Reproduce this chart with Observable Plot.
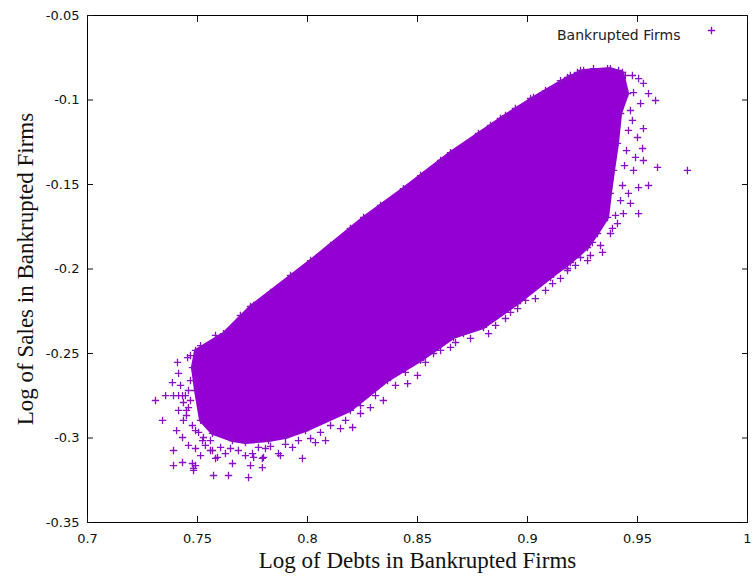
<!DOCTYPE html>
<html>
<head>
<meta charset="utf-8">
<script src="https://cdn.jsdelivr.net/npm/d3@7"></script>
<script src="https://cdn.jsdelivr.net/npm/@observablehq/plot@0.6"></script>
<style>
  html, body { margin: 0; padding: 0; background: #fff; }
  #chart { width: 755px; height: 581px; }
</style>
</head>
<body>
<div id="chart"></div>
<script>
// ---- Data ----
const seriesName = "Bankrupted Firms";
const xTitle = "Log of Debts in Bankrupted Firms";
const yTitle = "Log of Sales in Bankrupted Firms";
const xTicks = [0.7, 0.75, 0.8, 0.85, 0.9, 0.95, 1];
const yTicks = [-0.35, -0.3, -0.25, -0.2, -0.15, -0.1, -0.05];

// Outline of the saturated (overplotted) core of the cloud: [debts, sales]
const coreOutline = [
  [0.7477, -0.2583], [0.7491, -0.2482], [0.7618, -0.2382], [0.7741, -0.2222],
  [0.8014, -0.1950], [0.8255, -0.1695], [0.8436, -0.1524], [0.8650, -0.1311],
  [0.8877, -0.1109], [0.9027, -0.0985], [0.9182, -0.0867], [0.9255, -0.0825],
  [0.9377, -0.0814], [0.9432, -0.0837], [0.9455, -0.0962], [0.9423, -0.1080],
  [0.9409, -0.1257], [0.9391, -0.1417], [0.9377, -0.1553], [0.9364, -0.1695],
  [0.9318, -0.1790], [0.9273, -0.1873], [0.9195, -0.1962], [0.9105, -0.2050],
  [0.8955, -0.2204], [0.8800, -0.2346], [0.8664, -0.2405], [0.8514, -0.2541],
  [0.8364, -0.2660], [0.8195, -0.2837], [0.7991, -0.2956], [0.7900, -0.2997],
  [0.7823, -0.3015], [0.7718, -0.3027], [0.7659, -0.3015], [0.7568, -0.2973],
  [0.7514, -0.2896], [0.7491, -0.2719]
];

// Firms packed along the ragged border of the core: [debts, sales]
const borderFirms = [
  [0.7468, -0.2660], [0.7459, -0.2719], [0.7468, -0.2778], [0.7450, -0.2867],
  [0.7477, -0.2926], [0.7505, -0.2967], [0.7536, -0.3044], [0.7559, -0.3015],
  [0.7605, -0.3056], [0.7650, -0.3062], [0.7777, -0.3056], [0.7832, -0.3050],
  [0.7900, -0.3038], [0.7959, -0.3015], [0.8014, -0.3003], [0.8059, -0.2967],
  [0.8105, -0.2926], [0.8173, -0.2896], [0.8241, -0.2808], [0.8309, -0.2749],
  [0.8400, -0.2689], [0.8445, -0.2612], [0.8536, -0.2553], [0.8605, -0.2482],
  [0.8673, -0.2435], [0.8741, -0.2411], [0.8855, -0.2334], [0.8923, -0.2257],
  [0.8991, -0.2186], [0.9082, -0.2127], [0.9150, -0.2056], [0.9218, -0.1979],
  [0.9286, -0.1920], [0.9332, -0.1861], [0.9386, -0.1760], [0.9400, -0.1683],
  [0.9423, -0.1595], [0.9432, -0.1506], [0.9441, -0.1388], [0.9450, -0.1299],
  [0.9459, -0.1180], [0.9468, -0.1062], [0.9482, -0.0956], [0.9445, -0.0855],
  [0.7514, -0.2453], [0.7582, -0.2393], [0.7695, -0.2275], [0.7832, -0.2139],
  [0.7923, -0.2038], [0.8105, -0.1861], [0.8195, -0.1760], [0.8332, -0.1624],
  [0.8514, -0.1447], [0.8605, -0.1358], [0.8741, -0.1240], [0.8832, -0.1151],
  [0.8945, -0.1050], [0.9082, -0.0944], [0.9150, -0.0885], [0.9195, -0.0855],
  [0.7423, -0.2689], [0.7436, -0.2790], [0.7414, -0.2837], [0.7405, -0.2956],
  [0.7459, -0.3044], [0.7514, -0.3104]
];

// Individually visible firms around the edge of the cloud: [debts, sales]
const edgeFirms = [
  // lower-left fringe
  [0.7409, -0.2553], [0.7455, -0.2524], [0.7414, -0.2618], [0.7386, -0.2672],
  [0.7309, -0.2778], [0.7355, -0.2749], [0.7391, -0.2749], [0.7414, -0.2749],
  [0.7445, -0.2749], [0.7432, -0.2749], [0.7341, -0.2896], [0.7436, -0.2896],
  [0.7432, -0.2997], [0.7491, -0.2956], [0.7391, -0.3074], [0.7491, -0.3062],
  [0.7391, -0.3163], [0.7432, -0.3145], [0.7491, -0.3163], [0.7482, -0.3180],
  [0.7568, -0.3074], [0.7582, -0.3121], [0.7573, -0.3222], [0.7641, -0.3222],
  [0.7659, -0.3151], [0.7732, -0.3234], [0.7741, -0.3163], [0.7795, -0.3175],
  [0.7795, -0.3121], [0.7718, -0.3104], [0.7627, -0.3092], [0.7977, -0.3121],
  [0.7868, -0.3092], [0.7932, -0.3056], [0.7523, -0.3015], [0.7459, -0.2820],
  [0.7527, -0.2997], [0.7686, -0.3074], [0.7750, -0.3092], [0.7809, -0.3062],
  [0.7477, -0.3151], [0.7482, -0.3192], [0.7591, -0.3115], [0.7755, -0.3115],
  [0.7800, -0.3115], [0.7450, -0.2837], [0.7559, -0.3074], [0.7877, -0.3104],
  [0.8036, -0.3027], [0.8082, -0.3015], [0.8150, -0.2944], [0.8205, -0.2938],
  [0.8241, -0.2855], [0.8286, -0.2820], [0.7468, -0.2512], [0.7755, -0.2216],
  // lower-right fringe
  [0.8345, -0.2778], [0.8455, -0.2678], [0.8500, -0.2630], [0.8573, -0.2500],
  [0.8650, -0.2464], [0.8709, -0.2382], [0.8823, -0.2382], [0.8900, -0.2293],
  [0.8955, -0.2234], [0.9036, -0.2175], [0.9114, -0.2086], [0.9182, -0.2009],
  [0.9182, -0.1997], [0.9241, -0.1932], [0.9273, -0.1950], [0.9295, -0.1843],
  [0.9341, -0.1902], [0.9377, -0.1790], [0.9409, -0.1731], [0.9436, -0.1672],
  // right fringe
  [0.9505, -0.1672], [0.9468, -0.1612], [0.9459, -0.1553], [0.9505, -0.1518],
  [0.9550, -0.1506], [0.9482, -0.1417], [0.9591, -0.1399], [0.9727, -0.1417],
  [0.9527, -0.1358], [0.9491, -0.1340], [0.9523, -0.1287], [0.9500, -0.1222],
  [0.9527, -0.1169], [0.9477, -0.1121], [0.9514, -0.1021], [0.9582, -0.1003],
  [0.9550, -0.0962], [0.9527, -0.0902], [0.9505, -0.0873], [0.9477, -0.0855],
  // top fringe
  [0.9241, -0.0825], [0.9300, -0.0814], [0.9364, -0.0814], [0.9414, -0.0825],
  [0.9227, -0.0837], [0.9014, -0.0991], [0.8900, -0.1092], [0.8777, -0.1198]
];

// ---- Chart ----
const violet = "#9400d3";
const markColor = "#8a10c6";
const sans = "'DejaVu Sans', sans-serif";
const serif = "'Liberation Serif', 'Times New Roman', serif";
const xy = { x: d => d[0], y: d => d[1] };

const chart = Plot.plot({
  width: 755,
  height: 581,
  marginLeft: 87,
  marginRight: 8,
  marginTop: 15,
  marginBottom: 59,
  style: { fontFamily: sans, fontSize: "13px", color: "#111", background: "#fff" },
  x: { domain: [0.7, 1], ticks: xTicks },
  y: { domain: [-0.35, -0.05], ticks: yTicks },
  marks: [
    // dense core
    Plot.line(coreOutline, {
      ...xy, curve: "linear-closed",
      fill: violet, stroke: violet, strokeWidth: 3, strokeLinejoin: "round"
    }),
    Plot.dot(coreOutline, { ...xy, symbol: "plus", r: 2.5, stroke: markColor, strokeWidth: 1.3 }),
    Plot.dot(borderFirms, { ...xy, symbol: "plus", r: 2.5, stroke: markColor, strokeWidth: 1.3 }),
    // individual firms
    Plot.dot(edgeFirms, { ...xy, symbol: "plus", r: 2.5, stroke: markColor, strokeWidth: 1.3 }),
    // frame and axes (ticks point inward, mirrored on top/right)
    Plot.frame({ stroke: "#000", strokeWidth: 1 }),
    Plot.axisX({ ticks: xTicks, tickSize: -6, tickPadding: 17, label: null, tickFormat: d => String(d), fontSize: 13 }),
    Plot.axisX({ ticks: xTicks, anchor: "top", tickSize: -6, label: null, tickFormat: () => "" }),
    Plot.axisY({ ticks: yTicks, tickSize: -6, tickPadding: 14, label: null, tickFormat: d => String(d), fontSize: 13 }),
    Plot.axisY({ ticks: yTicks, anchor: "right", tickSize: -6, label: null, tickFormat: () => "" }),
    // axis titles
    Plot.text([xTitle], { text: d => d, frameAnchor: "bottom", dy: 45.5, fontFamily: serif, fontSize: 23, fill: "#111" }),
    Plot.text([yTitle], { text: d => d, frameAnchor: "left", dx: -62, rotate: -90, textAnchor: "middle", fontFamily: serif, fontSize: 23, fill: "#111" }),
    // legend
    Plot.text([seriesName], { text: d => d, frameAnchor: "top-right", dx: -67, dy: 15, textAnchor: "end", fontSize: 14, fill: "#222" }),
    Plot.dot([seriesName], { frameAnchor: "top-right", dx: -36, dy: 15, symbol: "plus", r: 2.5, stroke: violet, strokeWidth: 1.3 })
  ]
});
document.getElementById("chart").append(chart);
</script>
</body>
</html>
